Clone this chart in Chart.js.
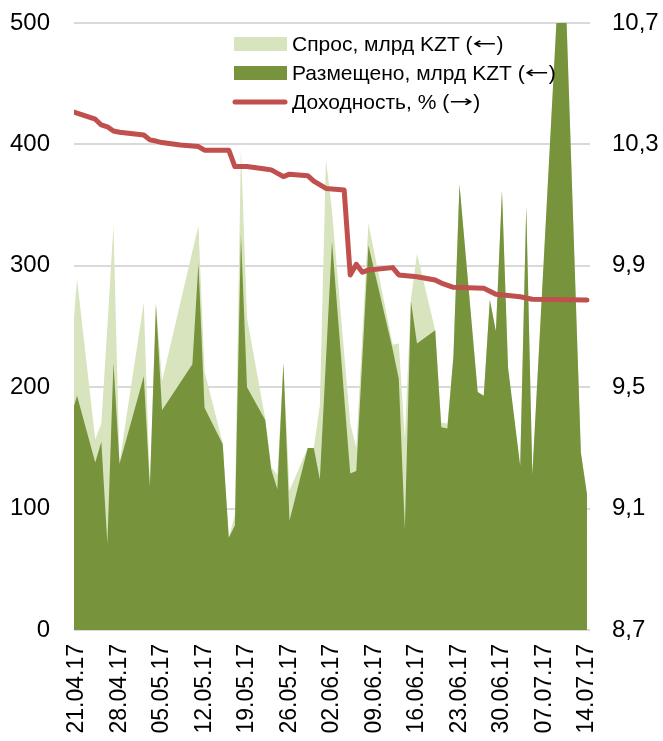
<!DOCTYPE html>
<html lang="ru">
<head>
<meta charset="UTF-8">
<title>Аукционы</title>
<style>
  html, body { margin: 0; padding: 0; background: #fff; }
  #wrap { width: 663px; height: 741px; }
</style>
</head>
<body>
<div id="wrap"><canvas id="myChart" width="663" height="741"></canvas></div>
<script src="https://cdn.jsdelivr.net/npm/chart.js@4"></script>
<script>
// auction dates (2017) and values, mlrd KZT
const dates = ['20.04','21.04','24.04','25.04','26.04','27.04','28.04','02.05','03.05','04.05','05.05',
  '10.05','11.05','12.05','15.05','16.05','17.05','18.05','19.05','22.05','23.05','24.05','25.05','26.05',
  '29.05','30.05','31.05','01.06','02.06','05.06','06.06','08.06','12.06','13.06','14.06','15.06','16.06',
  '19.06','20.06','21.06','22.06','23.06','26.06','27.06','28.06','29.06','30.06','01.07','03.07','04.07',
  '05.07','10.07','13.07','14.07'];
const demand = [226,289,157,170,250,333,138,270,118,270,205,
  312,333,213,154,76,95,397,257,174,134,128,220,115,
  150,150,185,388,345,170,150,335,235,236,158,272,310,
  247,171,170,225,367,196,193,272,246,362,216,135,349,
  128,597,146,112];
const placed = [176,193,138,155,71,220,137,209,118,268,181,
  219,302,183,153,76,86,326,200,173,132,116,220,90,
  150,150,124,222,320,129,131,317,231,207,83,271,236,
  247,167,166,225,367,196,193,272,246,362,216,135,349,
  128,597,146,112];

// yield, %
const yieldDates = ['20.04','24.04','25.04','26.04','27.04','28.04','02.05','03.05','04.05','05.05','08.05',
  '11.05','12.05','16.05','17.05','19.05','22.05','23.05','25.05','26.05','29.05','30.05','01.06','04.06',
  '05.06','06.06','07.06','08.06','12.06','13.06','16.06','19.06','20.06','22.06','27.06','29.06','03.07',
  '05.07','14.07'];
const yieldPct = [10.41,10.383,10.364,10.358,10.344,10.34,10.331,10.315,10.311,10.306,10.298,
  10.293,10.281,10.281,10.227,10.227,10.219,10.216,10.194,10.202,10.197,10.179,10.155,10.15,
  9.87,9.905,9.879,9.886,9.894,9.87,9.864,9.853,9.843,9.829,9.826,9.806,9.798,
  9.79,9.787];

const xLabels = ['21.04.17','28.04.17','05.05.17','12.05.17','19.05.17','26.05.17','02.06.17',
  '09.06.17','16.06.17','23.06.17','30.06.17','07.07.17','14.07.17'];
const leftTicks = [0,100,200,300,400,500];
const rightTicks = [8.7,9.1,9.5,9.9,10.3,10.7];

const FONT = 'Liberation Sans, Arial, sans-serif';

function dayNo(s) {
  const p = s.split('.').map(Number);
  return Math.round((Date.UTC(2017, p[1] - 1, p[0]) - Date.UTC(2017, 3, 21)) / 864e5);
}
function pts(ds, vals) {
  return ds.map((d, i) => ({ x: dayNo(d), y: vals[i] }));
}
const tickDays = xLabels.map(dayNo);

// legend text; arrows are drawn wider, like in the original
function legendText(c, text, x, y) {
  const parts = text.split(/([←→])/);
  parts.forEach(p => {
    if (p === '←' || p === '→') {
      c.save();
      c.font = '21px DejaVu Sans';
      const w = c.measureText(p).width;
      c.translate(x, y);
      c.scale(24 / w, 0.8);
      c.fillText(p, 0, 0);
      c.restore();
      x += 24;
    } else if (p) {
      c.fillText(p, x, y);
      x += c.measureText(p).width;
    }
  });
}

const legendBox = {
  id: 'legendBox',
  afterDraw(chart) {
    const c = chart.ctx;
    const items = [
      { text: 'Спрос, млрд KZT (←)', type: 'box', color: '#D7E4BD', y: 44 },
      { text: 'Размещено, млрд KZT (←)', type: 'box', color: '#77933C', y: 73 },
      { text: 'Доходность, % (→)', type: 'line', color: '#C0504D', y: 102 }
    ];
    c.save();
    c.textBaseline = 'middle';
    items.forEach(it => {
      if (it.type === 'box') {
        c.fillStyle = it.color;
        c.fillRect(234, it.y - 7, 53, 14);
      } else {
        c.strokeStyle = it.color;
        c.lineWidth = 5;
        c.lineCap = 'round';
        c.beginPath();
        c.moveTo(235, it.y);
        c.lineTo(285, it.y);
        c.stroke();
      }
      c.fillStyle = '#000';
      c.font = '21px ' + FONT;
      legendText(c, it.text, 292, it.y + 1);
    });
    c.restore();
  }
};

// y axes: keep label padding from pushing the plot area down
const noPad = s => { s.paddingTop = 0; s.paddingBottom = 0; };

new Chart(document.getElementById('myChart'), {
  type: 'line',
  data: {
    datasets: [
      {
        label: 'Доходность, % (→)',
        data: pts(yieldDates, yieldPct),
        yAxisID: 'y2',
        borderColor: '#C0504D',
        borderWidth: 5,
        borderCapStyle: 'round',
        borderJoinStyle: 'round',
        pointRadius: 0,
        fill: false,
        clip: 0,
        order: 0
      },
      {
        label: 'Размещено, млрд KZT (←)',
        data: pts(dates, placed),
        yAxisID: 'y',
        backgroundColor: '#77933C',
        borderWidth: 0,
        pointRadius: 0,
        fill: 'origin',
        clip: 0,
        order: 1
      },
      {
        label: 'Спрос, млрд KZT (←)',
        data: pts(dates, demand),
        yAxisID: 'y',
        backgroundColor: '#D7E4BD',
        borderWidth: 0,
        pointRadius: 0,
        fill: 'origin',
        clip: 0,
        order: 2
      }
    ]
  },
  options: {
    responsive: false,
    animation: false,
    devicePixelRatio: 1,
    layout: { padding: { top: 23, left: 0, right: 0, bottom: 0 } },
    plugins: { legend: { display: false }, tooltip: { enabled: false } },
    elements: { line: { tension: 0 } },
    scales: {
      x: {
        type: 'linear',
        min: -0.5,
        max: 84.5,
        grid: { display: false, drawTicks: false },
        border: { display: false },
        afterBuildTicks: s => { s.ticks = tickDays.map(v => ({ value: v })); },
        afterFit: s => { s.height = 111; s.paddingLeft = 0; s.paddingRight = 0; },
        ticks: {
          autoSkip: false,
          minRotation: 90,
          maxRotation: 90,
          padding: 14,
          color: '#000',
          font: { family: FONT, size: 23 },
          callback: (v) => xLabels[tickDays.indexOf(v)] || ''
        }
      },
      y: {
        position: 'left',
        min: 0,
        max: 500,
        afterBuildTicks: s => { s.ticks = leftTicks.map(v => ({ value: v })); },
        afterFit: s => { s.width = 74; noPad(s); },
        grid: { color: '#D9D9D9', lineWidth: 2, drawTicks: false },
        border: { display: false },
        ticks: { padding: 24, color: '#000', font: { family: FONT, size: 24 } }
      },
      y2: {
        position: 'right',
        min: 8.7,
        max: 10.7,
        afterBuildTicks: s => { s.ticks = rightTicks.map(v => ({ value: v })); },
        afterFit: s => { s.width = 73; noPad(s); },
        grid: { drawOnChartArea: false, drawTicks: false },
        border: { display: false },
        ticks: {
          padding: 22,
          color: '#000',
          font: { family: FONT, size: 24 },
          callback: v => v.toFixed(1).replace('.', ',')
        }
      }
    }
  },
  plugins: [legendBox]
});
</script>
</body>
</html>
